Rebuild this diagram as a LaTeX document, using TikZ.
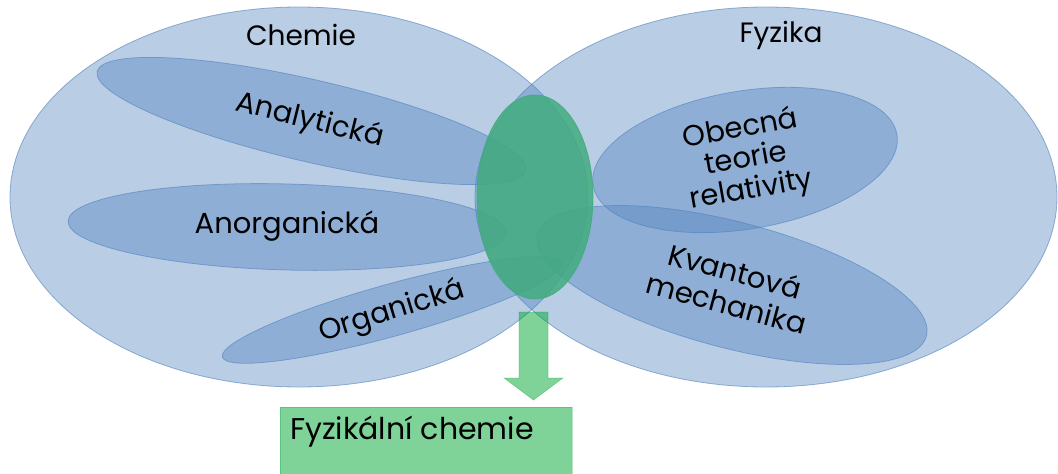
\documentclass[tikz,border=0pt]{standalone}
\usepackage{fontspec}
\setmainfont{Poppins}
\definecolor{blueA}{RGB}{79,129,189}
\definecolor{greenE}{RGB}{66,172,126}
\definecolor{greenB}{RGB}{0,166,50}
\tikzset{
  bigset/.style={fill=blueA, fill opacity=0.4, draw=blueA, draw opacity=0.6, line width=0.8pt},
  subset/.style={fill=blueA, fill opacity=0.4, draw=blueA, draw opacity=0.6, line width=0.8pt},
  core/.style={fill=greenE, fill opacity=0.85, draw=greenE, draw opacity=0.9, line width=0.8pt},
  result/.style={fill=greenB, fill opacity=0.5, draw=greenB, draw opacity=0.3, line width=0.8pt},
  lbl/.style={font=\fontsize{29}{32}\selectfont, text=black, align=center, inner sep=0pt},
  hdr/.style={font=\fontsize{28}{32}\selectfont, text=black, inner sep=0pt}
}
\begin{document}
\begin{tikzpicture}[x=1pt,y=-1pt]
\useasboundingbox (0,0) rectangle (1058,474);
% big sets
\coordinate (chc) at (299,197);
\coordinate (fyc) at (766,197);
\draw[bigset] (chc) ellipse [x radius=289pt, y radius=190pt];
\draw[bigset] (fyc) ellipse [x radius=291pt, y radius=190pt];
% sub sets
\coordinate (anc) at (311.5,121);
\coordinate (aoc) at (287,227);
\coordinate (orc) at (392,310);
\coordinate (obc) at (745,160);
\coordinate (kvc) at (732,285);
\draw[subset, rotate around={-13:(anc)}] (anc) ellipse [x radius=220pt, y radius=41pt];
\draw[subset, rotate around={-1.5:(aoc)}] (aoc) ellipse [x radius=219pt, y radius=43pt];
\draw[subset, rotate around={15.5:(orc)}] (orc) ellipse [x radius=176pt, y radius=26pt];
\draw[subset, rotate around={9.5:(obc)}] (obc) ellipse [x radius=154pt, y radius=69pt];
\draw[subset, rotate around={-14.7:(kvc)}] (kvc) ellipse [x radius=201pt, y radius=63pt];
% core
\coordinate (coc) at (535,197);
\draw[core] (coc) ellipse [x radius=58pt, y radius=102pt];
% arrow
\draw[result] (519,312) -- (548,312) -- (548,378) -- (563,378) -- (533.5,400) -- (504,378) -- (519,378) -- cycle;
% result box
\node[result, minimum width=292pt, minimum height=70pt, anchor=north west, inner sep=0pt] (box) at (280,407) {};
\node[hdr, font=\fontsize{30}{34}\selectfont, anchor=base west] (boxt) at (290,439) {Fyzikální chemie};
% labels
\node[hdr] (chem) at (301,35) {Chemie};
\node[hdr] (fyz) at (781,35) {Fyzika};
\node[lbl, rotate=-14] (ana) at (310,121) {Analytická};
\node[lbl] (ano) at (287,226) {Anorganická};
\node[lbl, rotate=17] (org) at (392,312) {Organická};
\node[lbl, rotate=10, font=\fontsize{29}{31}\selectfont] (obe) at (746,160) {Obecná\\teorie\\relativity};
\node[lbl, rotate=-15, font=\fontsize{29}{33}\selectfont] (kva) at (731,287) {Kvantová\\mechanika};
\end{tikzpicture}
\end{document}
